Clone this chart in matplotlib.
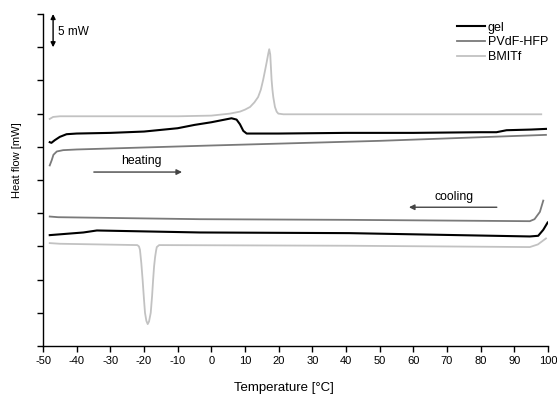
import matplotlib
matplotlib.use("Agg")
import matplotlib.pyplot as plt

plt.rcParams['font.family'] = ['Liberation Sans', 'DejaVu Sans']
plt.rcParams['axes.unicode_minus'] = False

# heating runs (temperature in degC, heat flow in mW, curves offset)
gel_heat_t = [-48, -47.5, -46.5, -45, -43, -40, -30, -20, -14, -10, -5, 0, 4, 6, 7.5, 8.5, 9.5, 10.5, 20, 40, 60, 80, 84.7, 87.7, 95, 99.4]
gel_heat_hf = [30.7, 30.6, 31.0, 31.5, 31.9, 32.0, 32.1, 32.3, 32.6, 32.8, 33.3, 33.7, 34.1, 34.3, 34.1, 33.4, 32.4, 32.0, 32.0, 32.1, 32.1, 32.2, 32.2, 32.5, 32.6, 32.7]

pvdf_heat_t = [-48, -47.4, -46.9, -45.9, -44, -40, 0, 50, 99.4]
pvdf_heat_hf = [27.2, 28.0, 28.8, 29.3, 29.5, 29.6, 30.2, 30.9, 31.8]

bmitf_heat_t = [-48, -47, -45, -30, -10, 0, 5.5, 8.5, 10, 11.5, 12.8, 13.9, 14.7, 15.4, 16.0, 16.5, 16.9, 17.2,
                17.5, 17.9, 18.15, 18.4, 18.9, 19.4, 19.9, 21.4, 40, 60, 80, 98]
bmitf_heat_hf = [34.2, 34.5, 34.6, 34.6, 34.6, 34.7, 35.0, 35.3, 35.6, 36.0, 36.7, 37.5, 38.6, 40.1, 41.6, 42.9, 44.0, 44.7,
                 43.9, 40.1, 38.6, 37.5, 36.0, 35.3, 35.0, 34.9, 34.9, 34.9, 34.9, 34.9]

# cooling runs
gel_cool_t = [-48, -38, -34, -3.4, 41, 94.6, 97.1, 98.6, 99.9]
gel_cool_hf = [16.7, 17.1, 17.4, 17.1, 17.0, 16.5, 16.6, 17.5, 18.6]

pvdf_cool_t = [-48, -45.5, -3.4, 41, 94.6, 96, 97.6, 98.6]
pvdf_cool_hf = [19.5, 19.4, 19.1, 19.0, 18.8, 19.1, 20.2, 21.9]

bmitf_cool_t = [-48, -45, -22, -21.5, -21.2, -20.8, -20.4, -20, -19.7, -19.3, -18.9, -18.5, -18, -17.6,
                -17.3, -17, -16.7, -16.4, -16.2, -15.5, 41, 94.6, 97, 99.4]
bmitf_cool_hf = [15.5, 15.4, 15.2, 15.0, 14.5, 12.5, 9.9, 7.0, 5.0, 3.8, 3.3, 3.7, 5.0, 7.5,
                 9.9, 12.0, 13.4, 14.4, 14.9, 15.2, 15.1, 14.9, 15.3, 16.2]

x_ticks = list(range(-50, 101, 10))
y_ticks = list(range(0, 51, 5))

fig = plt.figure(figsize=(5.57, 3.94), dpi=100)
ax = fig.add_axes([0.0772, 0.1218, 0.9066, 0.8426])

c_gel, c_pvdf, c_bmi = 'black', '#7a7a7a', '#c2c2c2'

ax.plot(gel_heat_t, gel_heat_hf, color=c_gel, lw=1.5, label='gel')
ax.plot(pvdf_heat_t, pvdf_heat_hf, color=c_pvdf, lw=1.3, label='PVdF-HFP')
ax.plot(bmitf_heat_t, bmitf_heat_hf, color=c_bmi, lw=1.3, label='BMITf')
ax.plot(gel_cool_t, gel_cool_hf, color=c_gel, lw=1.5)
ax.plot(pvdf_cool_t, pvdf_cool_hf, color=c_pvdf, lw=1.3)
ax.plot(bmitf_cool_t, bmitf_cool_hf, color=c_bmi, lw=1.3)

ax.set_xlim(-50, 100)
ax.set_ylim(0, 50)
ax.set_xticks(x_ticks)
ax.set_yticks(y_ticks)
ax.set_yticklabels([])
ax.tick_params(direction='out', length=4, width=1, labelsize=8, pad=3)
for s in ['top', 'right']:
    ax.spines[s].set_visible(False)
for s in ['left', 'bottom']:
    ax.spines[s].set_linewidth(1)

ax.set_xlabel('Temperature [°C]', fontsize=9.5)
ax.xaxis.set_label_coords(0.478, -0.108)
ax.set_ylabel('Heat flow [mW]', fontsize=8)
ax.yaxis.set_label_coords(-0.042, 0.56)

# 5 mW scale bar
ax.annotate('', xy=(-47, 50), xytext=(-47, 45),
            arrowprops=dict(arrowstyle='<|-|>', color='black', lw=1, mutation_scale=7,
                            shrinkA=0, shrinkB=0))
ax.text(-45.6, 47.3, '5 mW', fontsize=8.5, va='center', ha='left')

# heating / cooling arrows
ax.annotate('', xy=(-8.7, 26.2), xytext=(-34.9, 26.2),
            arrowprops=dict(arrowstyle='-|>', color='#444444', lw=1, mutation_scale=8,
                            shrinkA=0, shrinkB=0))
ax.text(-20.7, 26.9, 'heating', fontsize=8.8, ha='center', va='bottom')
ax.annotate('', xy=(58.7, 20.9), xytext=(84.8, 20.9),
            arrowprops=dict(arrowstyle='-|>', color='#444444', lw=1, mutation_scale=8,
                            shrinkA=0, shrinkB=0))
ax.text(72, 21.6, 'cooling', fontsize=8.8, ha='center', va='bottom')

ax.legend(loc='upper right', bbox_to_anchor=(1.005, 0.985), frameon=False, fontsize=9,
          handlelength=2.2, handletextpad=0.25, labelspacing=0.22, borderaxespad=0, borderpad=0.2)

fig.savefig('out.png', dpi=100)
